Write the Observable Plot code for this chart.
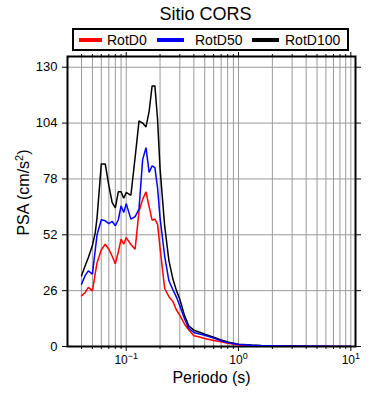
<!DOCTYPE html>
<html><head><meta charset="utf-8">
<script src="https://cdn.jsdelivr.net/npm/d3@7"></script>
<script src="https://cdn.jsdelivr.net/npm/@observablehq/plot@0.6"></script>
<style>
body{margin:0;background:#fff;font-family:"Liberation Sans",Arial,sans-serif;}
#wrap{position:relative;width:390px;height:400px;overflow:hidden;}
#title{position:absolute;left:0;width:411px;top:5px;text-align:center;font-size:18px;line-height:18px;color:#000;}
#lbox{position:absolute;left:72px;top:28px;width:277px;height:23px;box-sizing:border-box;border:2px solid #000;z-index:2;background:transparent;}
.sw{position:absolute;top:38px;height:4px;z-index:3;}
.lt{position:absolute;top:33px;font-size:14px;line-height:14px;z-index:3;}
#chart{position:absolute;left:0;top:50px;}
</style></head>
<body>
<div id="wrap">
  <div id="title">Sitio CORS</div>
  <div id="lbox"></div>
  <div class="sw" style="left:79px;width:23px;background:#ff0000"></div>
  <div class="lt" style="left:107px">RotD0</div>
  <div class="sw" style="left:157px;width:27px;background:#0000ff"></div>
  <div class="lt" style="left:195px">RotD50</div>
  <div class="sw" style="left:252px;width:27px;background:#000"></div>
  <div class="lt" style="left:285px">RotD100</div>
  <div id="chart"></div>
</div>
<script>
const periods = [0.04,0.043,0.046,0.05,0.053,0.055,0.06,0.065,0.07,0.075,0.08,0.085,0.09,0.095,0.1,0.11,0.12,0.13,0.14,0.15,0.16,0.17,0.18,0.19,0.2,0.22,0.24,0.26,0.28,0.3,0.33,0.36,0.4,0.45,0.5,0.6,0.7,0.8,1.0,1.3,1.6,2,2.5,3,4,5,6,7.5,10];
const rotD0 = [23.6,25.1,27.5,25.9,34,39,45,47.6,45.3,42,38.5,44,50,47.6,50.7,47.5,45.3,63,68.5,72,65,58.8,59.3,57,46,27,23.2,21,17,14.5,10.5,7.8,5,4.4,3.7,2.8,2.2,1.5,0.7,0.45,0.32,0.22,0.16,0.12,0.08,0.05,0.04,0.03,0.02];
const rotD50 = [29,33,35.2,33.7,45,52,59,58.5,57.2,58.2,56.2,59,65.5,62.4,66.5,59.3,60.5,64,87,92.6,81,84.1,83.3,74,60,42,30.6,26.5,23,19,13,8.5,6.5,5.8,5.2,3.9,2.7,1.8,0.9,0.55,0.4,0.28,0.2,0.15,0.1,0.07,0.05,0.04,0.03];
const rotD100 = [32.9,37.5,41.4,47,53,60,85,85,75,67,64.5,72,72,69,71.7,70.4,88,105,104,102.2,109.5,121.3,121.3,106,83,56,40,31.5,26,22,14.5,9.6,7.6,6.6,5.7,4.3,3.1,2.1,1.1,0.7,0.5,0.35,0.25,0.2,0.12,0.08,0.06,0.04,0.03];
const seriesNames = ["RotD0","RotD50","RotD100"];
const seriesColors = ["#ff0000","#0000ff","#000000"];
const drawOrder = ["RotD0","RotD100","RotD50"];
const yTicks = [0,26,52,78,104,130];
const xMajor = [0.1,1,10];
const xMinor = [0.04,0.05,0.06,0.07,0.08,0.09,0.2,0.3,0.4,0.5,0.6,0.7,0.8,0.9,2,3,4,5,6,7,8,9];
const title = "Sitio CORS";
const xLabel = "Periodo (s)";
const yLabel = "PSA (cm/s2)";

const values = {RotD0: rotD0, RotD50: rotD50, RotD100: rotD100};
const rows = [];
drawOrder.forEach(s => periods.forEach((t, j) => rows.push({s, t, v: values[s][j]})));
const xGrid = xMinor.concat(xMajor).sort((a,b)=>a-b);
const empty = () => "";

const chart = Plot.plot({
  width: 390, height: 350,
  marginTop: 6, marginBottom: 54, marginLeft: 67, marginRight: 35,
  style: {fontFamily: "Liberation Sans, Arial, sans-serif", background: "transparent", color: "#000"},
  x: {type: "log", domain: [0.03, 11], label: null},
  y: {domain: [0, 135], label: null},
  color: {domain: seriesNames, range: seriesColors},
  marks: [
    Plot.gridX(xGrid, {stroke: "#9a9a9a", strokeOpacity: 1, strokeWidth: 1}),
    Plot.gridY(yTicks.slice(1), {stroke: "#9a9a9a", strokeOpacity: 1, strokeWidth: 1}),
    Plot.frame({stroke: "#000", strokeWidth: 2}),
    Plot.axisX({ticks: xMinor, tickSize: 3, tickFormat: empty, label: null}),
    Plot.axisX({ticks: xMajor, tickSize: 5, tickPadding: 4, fontSize: 12, label: null,
      tickFormat: d => String(Math.round(Math.log10(d)))}),
    Plot.axisX({anchor: "top", ticks: xMinor, tickSize: 3, tickFormat: empty, label: null}),
    Plot.axisX({anchor: "top", ticks: xMajor, tickSize: 5, tickFormat: empty, label: null}),
    Plot.axisY({ticks: yTicks, tickSize: 5, tickPadding: 5, fontSize: 13, label: null}),
    Plot.axisY({anchor: "right", ticks: yTicks, tickSize: 5, tickFormat: empty, label: null}),
    Plot.line(rows, {x: "t", y: "v", z: "s", stroke: "s", strokeWidth: 1.5, strokeLinejoin: "miter", clip: true}),
    Plot.text([xLabel], {frameAnchor: "bottom", dy: 36, fontSize: 16, text: d => d}),
    Plot.text([yLabel], {frameAnchor: "left", textAnchor: "middle", rotate: -90, dx: -44, dy: -9, fontSize: 16, text: d => d})
  ]
});
document.getElementById("chart").appendChild(chart);
document.getElementById("title").textContent = title;

d3.select(chart).selectAll('g[aria-label="x-axis tick label"] text').each(function() {
  const el = d3.select(this);
  const e = el.text();
  if (!e) return;
  el.text(null);
  el.append("tspan").text("10");
  el.append("tspan").attr("dy", "-5px").attr("font-size", "9px").text(e.replace("-", "\u2212"));
});
d3.select(chart).selectAll("text").each(function() {
  const el = d3.select(this);
  if (el.text() !== yLabel) return;
  el.text(null);
  el.append("tspan").text("PSA (cm/s");
  el.append("tspan").attr("dy", "-6px").attr("font-size", "11px").text("2");
  el.append("tspan").attr("dy", "6px").text(")");
});
</script>
</body></html>
